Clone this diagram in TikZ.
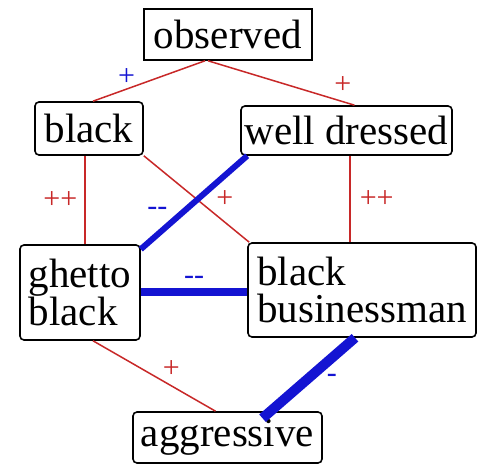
\documentclass[tikz,border=0pt]{standalone}
\usepackage{fontspec}
\setmainfont{Liberation Serif}
\usetikzlibrary{positioning}
\definecolor{linkred}{RGB}{200,40,40}
\definecolor{linkblue}{RGB}{20,20,210}
\tikzset{
  concept/.style={
    rectangle, rounded corners=4pt,
    draw=black, line width=1.6pt, fill=white,
    inner sep=0pt, align=center,
    font=\fontsize{41}{37}\selectfont
  },
  poslink/.style={draw=linkred, line width=1.5pt},
  neglink/.style={draw=linkblue, line width=6pt},
  redlabel/.style={text=linkred, inner sep=1pt, font=\fontsize{30}{30}\selectfont},
  bluelabel/.style={text=linkblue, inner sep=1pt, font=\fontsize{30}{30}\selectfont},
}

\begin{document}
\begin{tikzpicture}[x=1pt, y=1pt]
  \useasboundingbox[fill=white] (0,0) rectangle (477,468);

  \node[concept, rounded corners=0pt, minimum width=168pt, minimum height=51pt] (obs) at (228,433.5) {observed};
  \node[concept, minimum width=108pt, minimum height=53pt] (blk) at (89,339.5) {black};
  \node[concept, minimum width=211pt, minimum height=49pt] (well) at (346.5,337.5) {well dressed};
  \node[concept, align=left, minimum width=120pt, minimum height=95pt] (ghetto) at (80,175.5) {ghetto\\black};
  \node[concept, align=left, minimum width=228pt, minimum height=94pt] (biz) at (362,178) {black\\businessman};
  \node[concept, minimum width=189pt, minimum height=51pt] (aggr) at (227.5,30.5) {aggressive};

  \draw[poslink] ([xshift=-23pt]obs.south) -- ([xshift=4pt]blk.north)
    node[bluelabel, pos=.7, above=2pt] {+};
  \draw[poslink] ([xshift=-20pt]obs.south) -- ([xshift=8pt]well.north)
    node[redlabel, pos=.92, above=6pt] {+};
  \draw[poslink] ([xshift=-4pt]blk.south) -- ([xshift=5pt]ghetto.north)
    node[redlabel, midway, left=6pt] {++};
  \draw[poslink] (blk.south east) -- ([xshift=2pt]biz.north west)
    node[redlabel, midway, right=18pt] {+};
  \draw[neglink] ([xshift=7pt]well.south west) -- ([yshift=-5pt]ghetto.north east)
    node[bluelabel, pos=.6, left=12pt] {-{}-};
  \draw[poslink] ([xshift=3.5pt]well.south) -- ([xshift=-12pt]biz.north)
    node[redlabel, midway, right=8pt] {++};
  \draw[neglink, line width=8pt] (ghetto.east) -- (ghetto.east -| biz.west)
    node[bluelabel, midway, above=3pt] {-{}-};
  \draw[poslink] ([xshift=13pt]ghetto.south) -- ([xshift=-12pt]aggr.north)
    node[redlabel, pos=.55, above right=1pt] {+};
  \draw[neglink, line width=10pt] ([xshift=-7pt]biz.south) -- ([xshift=35pt,yshift=-7pt]aggr.north)
    node[bluelabel, midway, right=12pt] {-};
\end{tikzpicture}
\end{document}
